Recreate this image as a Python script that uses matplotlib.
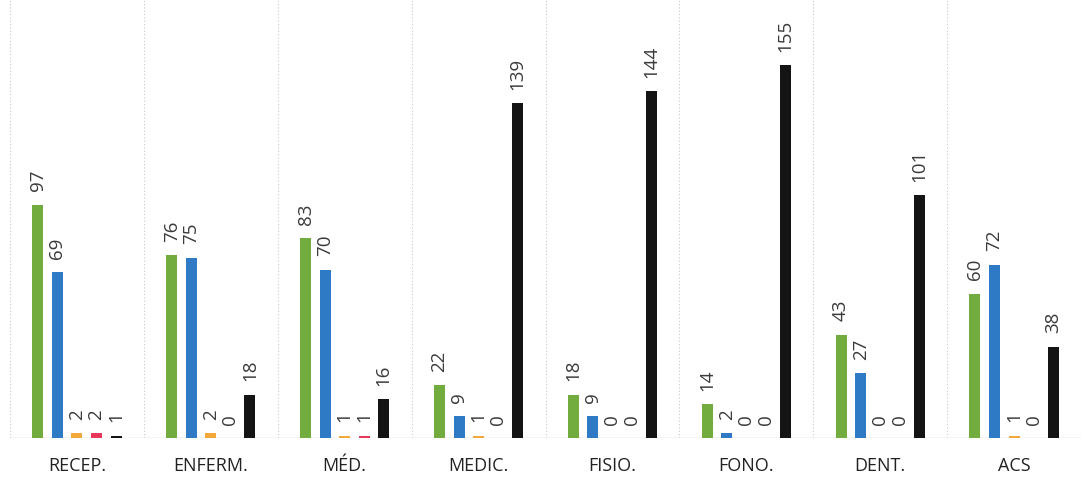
import matplotlib.pyplot as plt
import numpy as np

categorias = ['RECEP.', 'ENFERM.', 'MÉD.', 'MEDIC.', 'FISIO.', 'FONO.', 'DENT.', 'ACS']
verde = [97, 76, 83, 22, 18, 14, 43, 60]
azul = [69, 75, 70, 9, 9, 2, 27, 72]
laranja = [2, 2, 1, 1, 0, 0, 0, 1]
vermelho = [2, 0, 1, 0, 0, 0, 0, 0]
preto = [1, 18, 16, 139, 144, 155, 101, 38]

series = [verde, azul, laranja, vermelho, preto]
cores = ['#72ac3f', '#2f7ac4', '#f2a83a', '#e8385a', '#141414']

fig = plt.figure(figsize=(10.82, 4.79), dpi=100)
ax = fig.add_axes([10 / 1082, 41 / 479, 1071 / 1082, 438 / 479])

x = np.arange(len(categorias))
passo = 0.146
larg = 0.082
for k, (vals, cor) in enumerate(zip(series, cores)):
    pos = x + (k - 2) * passo
    ax.bar(pos, vals, width=larg, color=cor, zorder=3)
    for px, v in zip(pos, vals):
        ax.text(px, v + 5.5, str(v), rotation=90, ha='center', va='bottom',
                fontsize=13.5, color='#3a3a3a', family='Open Sans')

ax.set_xlim(-0.5, 7.5)
ax.set_ylim(0, 182)
for b in np.arange(-0.5, 8.0, 1.0):
    ax.axvline(b, color='#c8c8c8', lw=0.8, ls=(0, (1, 2)), zorder=1)
ax.axhline(0, color='#c8c8c8', lw=1, zorder=2)

ax.set_xticks(x)
ax.set_xticklabels(categorias, fontsize=13, color='#222222', family='Open Sans')
ax.tick_params(axis='x', length=0, pad=14)
ax.set_yticks([])
for s in ax.spines.values():
    s.set_visible(False)

fig.savefig('out.png', dpi=100)
